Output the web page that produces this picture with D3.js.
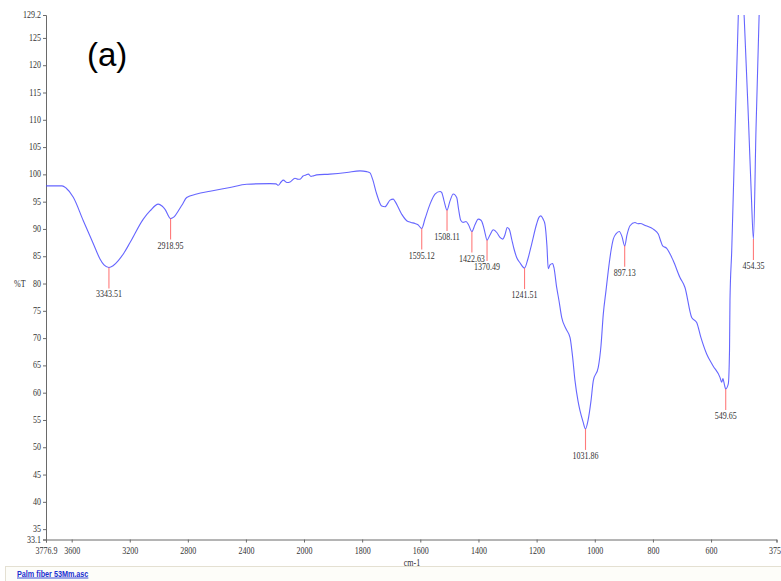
<!DOCTYPE html>
<html>
<head>
<meta charset="utf-8">
<script src="https://cdn.jsdelivr.net/npm/d3@7"></script>
<style>
  html, body { margin: 0; padding: 0; background: #ffffff; }
  svg { display: block; }
</style>
</head>
<body>
<svg id="chart" width="781" height="581"></svg>
<script>
// FTIR spectrum of palm fibre: wavenumber (cm-1) and percent transmittance
const wavenumbers = [
  3776.9, 3666.7, 3639, 3588.9, 3520, 3451, 3405, 3377.5, 3343.51, 3315, 3279, 3240, 3198,
  3106.8, 3060.7, 3003.5, 2978, 2957, 2918.95, 2895, 2866, 2840, 2808, 2739, 2647, 2509.7,
  2394.7, 2234, 2193, 2177, 2158, 2142.6, 2117, 2096, 2062, 2041, 2027.5, 2006.5,
  1993, 1985, 1976, 1968, 1956.6, 1911, 1853.2, 1807.4, 1784.4, 1773, 1764.4, 1750,
  1732.8, 1721.4, 1704.2, 1692.9, 1687, 1664, 1646.8, 1632, 1618.3, 1608, 1595.12,
  1583.8, 1566.6, 1549.4, 1532.2, 1526.3, 1518.4, 1508.11, 1497.8, 1486.5, 1474.8,
  1468.6, 1461, 1453, 1442.8, 1434.2, 1422.63, 1412, 1400.6, 1391.3, 1383.4, 1377.6,
  1370.49, 1360.4, 1349, 1336.3, 1326, 1316.7, 1308.8, 1300.9, 1293.4, 1285.8, 1277.9,
  1268.6, 1257.3, 1241.51, 1229.8, 1217, 1200, 1192, 1185.2, 1178.3, 1171.4, 1164.5,
  1160, 1154, 1145, 1140.5, 1131, 1123, 1113.8, 1099, 1085, 1076.7, 1068, 1057.7,
  1050.8, 1040.5, 1031.86, 1023.3, 1013, 1005, 988, 978.6, 970.7, 961.4, 953.5, 944.2,
  936.3, 927, 915.7, 906.4, 897.13, 889.2, 878.9, 861.7, 851.4, 844.5, 823.9, 798.8,
  781.6, 772.3, 766.5, 752.7, 730, 707, 689.8, 666.7, 649.5, 634.8, 615.2, 593.5,
  569.4, 563.6, 559, 555.6, 549.65, 540.8, 536.6, 535, 529, 518, 506.6, 500, 486, 470,
  461.5, 454.35, 445.6, 435, 420, 375
];
const transmittance = [
  97.9, 97.9, 97.5, 95.8, 91.5, 87.3, 84.5, 83.4, 82.94, 83.25, 84.2, 85.6, 87.5,
  91.8, 93.3, 94.55, 94.2, 93.6, 91.9, 92.2, 93.3, 94.4, 95.75, 96.4, 96.9, 97.6,
  98.2, 98.3, 98.26, 98.0, 98.6, 98.94, 98.5, 98.6, 99.3, 99.1, 99.1, 99.7,
  99.9, 100.04, 99.64, 99.73, 99.9, 100.04, 100.33, 100.64, 100.5, 100.28, 99.18, 96.4,
  94.2, 94.06, 95.28, 95.47, 95.06, 92.7, 91.5, 91.2, 91.0, 90.76, 90.08,
  91.86, 94.55, 96.4, 96.86, 96.67, 95.15, 93.45, 95.15, 96.4, 95.76,
  93.7, 91.6, 91.2, 91.36, 90.76, 89.53, 90.76, 91.8, 91.6, 90.58, 89.3,
  87.96, 88.9, 89.84, 89.3, 88.44, 88.14, 88.93, 90.27, 89.84, 88.14, 86.37,
  84.77, 83.8, 82.83, 84.54, 87.23, 90.9, 92.13, 92.4, 91.86, 90.9, 86.9,
  82.7, 83.4, 83.68, 82.94, 79.28, 76.85, 73.8, 71.7, 70.1, 66.78, 62.2, 58.5,
  56.7, 54.7, 53.36, 54.88, 58.5, 62.2, 64.64, 68.6, 74.4, 78.7, 82.34, 86.0,
  88.14, 89.1, 89.53, 88.6, 86.9, 88.9, 90.58, 91.18, 90.94, 91.0, 90.58, 89.97,
  89.06, 87.65, 86.9, 86.46, 84.17, 81.1, 79.28, 73.79, 72.88, 70.08, 67.09, 64.95,
  62.81, 61.9, 62.57, 61.84, 60.68, 61.6, 67.7, 76.85, 86.0, 107.4, 128.7, 140, 128.7, 108,
  96.1, 88.14, 108, 128.7, 145, 160
];

// Picked peaks
const peakWavenumbers = [3343.51, 2918.95, 1595.12, 1508.11, 1422.63, 1370.49, 1241.51, 1031.86, 897.13, 549.65, 454.35];
const peakLabels = ["3343.51", "2918.95", "1595.12", "1508.11", "1422.63", "1370.49", "1241.51", "1031.86", "897.13", "549.65", "454.35"];

// Axis ticks
const xTickValues = [3776.9, 3600, 3200, 2800, 2400, 2000, 1800, 1600, 1400, 1200, 1000, 800, 600, 375];
const xTickLabels = ["3776.9", "3600", "3200", "2800", "2400", "2000", "1800", "1600", "1400", "1200", "1000", "800", "600", "375"];
const yTickValues = [33.1, 35, 40, 45, 50, 55, 60, 65, 70, 75, 80, 85, 90, 95, 100, 105, 110, 115, 120, 125, 129.2];
const yTickLabels = ["33.1", "35", "40", "45", "50", "55", "60", "65", "70", "75", "80", "85", "90", "95", "100", "105", "110", "115", "120", "125", "129.2"];

const svg = d3.select("#chart");
const plotLeft = 46, plotRight = 776.5, plotTop = 15, plotBottom = 539.5;
const squeeze = 0.8;   // narrow serif lettering
const serif = "'Liberation Serif', 'Times New Roman', serif";
const labelSize = 10;

// Wavenumber axis is expanded by 2x below 2000 cm-1
const x = d3.scaleLinear().domain([3776.9, 2000, 375]).range([plotLeft, 304, plotRight]);
const y = d3.scaleLinear().domain([33.1, 129.2]).range([plotBottom, plotTop]);

svg.append("defs").append("clipPath").attr("id", "plot-clip")
  .append("rect").attr("x", plotLeft).attr("y", plotTop)
  .attr("width", plotRight - plotLeft + 2).attr("height", plotBottom - plotTop);

// Axes
const xAxis = d3.axisBottom(x).tickValues(xTickValues).tickSize(3).tickFormat((d, i) => xTickLabels[i]);
const yAxis = d3.axisLeft(y).tickValues(yTickValues).tickSize(3).tickFormat((d, i) => yTickLabels[i]);

const gx = svg.append("g").attr("transform", `translate(0,${plotBottom})`).call(xAxis);
const gy = svg.append("g").attr("transform", `translate(${plotLeft},0)`).call(yAxis);

[gx, gy].forEach(g => {
  g.select(".domain").attr("stroke", "#6a6a6a").attr("stroke-width", 1);
  g.selectAll(".tick line").attr("stroke", "#6a6a6a");
  g.selectAll(".tick text")
    .attr("fill", "#333")
    .attr("font-family", serif)
    .attr("font-size", labelSize);
});
gx.selectAll(".tick text")
  .attr("y", null).attr("dy", null)
  .attr("transform", `translate(0,14) scale(${squeeze},1)`);
// last wavenumber label sits flush against the right edge
gx.selectAll(".tick text").filter((d, i) => i === xTickValues.length - 1)
  .attr("text-anchor", "end")
  .attr("transform", `translate(4,14) scale(${squeeze},1)`);
gy.selectAll(".tick text")
  .attr("x", null).attr("dy", null)
  .attr("transform", `translate(-5,2.5) scale(${squeeze},1)`);

// Axis titles
svg.append("text").text("%T")
  .attr("transform", `translate(14,287) scale(${squeeze},1)`)
  .attr("font-family", serif).attr("font-size", labelSize).attr("fill", "#333");
svg.append("text").text("cm-1")
  .attr("text-anchor", "middle")
  .attr("transform", `translate(412,566) scale(${squeeze},1)`)
  .attr("font-family", serif).attr("font-size", labelSize).attr("fill", "#333");

// Spectrum trace
const spectrum = wavenumbers.map((w, i) => ({ w, t: transmittance[i] }));
const line = d3.line().x(d => x(d.w)).y(d => y(d.t)).curve(d3.curveMonotoneX);
svg.append("path")
  .datum(spectrum)
  .attr("clip-path", "url(#plot-clip)")
  .attr("fill", "none")
  .attr("stroke", "#4a4aff")
  .attr("stroke-opacity", 0.85)
  .attr("stroke-width", 1.1)
  .attr("d", line);

// Peak markers and labels
const peaks = peakWavenumbers.map((w, i) => {
  const hit = spectrum.find(d => d.w === w);
  return { w, t: hit.t, label: peakLabels[i] };
});
const pk = svg.append("g").selectAll("g").data(peaks).join("g");
pk.append("line")
  .attr("x1", d => x(d.w)).attr("x2", d => x(d.w))
  .attr("y1", d => y(d.t)).attr("y2", d => y(d.t) + 21)
  .attr("stroke", "#ff5a5a").attr("stroke-opacity", 0.8).attr("stroke-width", 1.1);
pk.append("text")
  .text(d => d.label)
  .attr("text-anchor", "middle")
  .attr("transform", d => `translate(${x(d.w)},${y(d.t) + 30}) scale(${squeeze},1)`)
  .attr("font-family", serif).attr("font-size", labelSize).attr("fill", "#333");

// Panel letter
svg.append("text").text("(a)")
  .attr("x", 87).attr("y", 66)
  .attr("font-family", "'Liberation Sans', Arial, sans-serif")
  .attr("font-size", 33).attr("fill", "#000");

// File name strip under the plot
svg.append("rect")
  .attr("x", 5.5).attr("y", 566.5).attr("width", 780).attr("height", 20)
  .attr("fill", "#fdfdf9").attr("stroke", "#e4e0d2");
svg.append("text").text("Palm fiber 53Mm.asc")
  .attr("transform", "translate(17,576.5) scale(0.85,1)")
  .attr("font-family", "'Liberation Sans', Arial, sans-serif")
  .attr("font-weight", "bold").attr("font-size", 8.5)
  .attr("fill", "#1a2fd0").attr("text-decoration", "underline");
</script>
</body>
</html>
